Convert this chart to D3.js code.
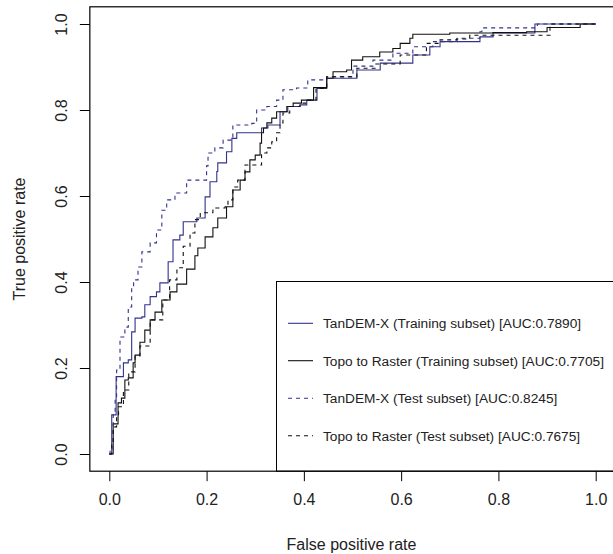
<!DOCTYPE html>
<html><head><meta charset="utf-8">
<script src="https://cdn.jsdelivr.net/npm/d3@7"></script>
<style>html,body{margin:0;padding:0;background:#fff;}svg{display:block;font-family:"Liberation Sans",Arial,sans-serif;}</style>
</head><body><div id="chart"></div>
<script>
const xTicks = [0, 0.2, 0.4, 0.6, 0.8, 1.0];
const yTicks = [0, 0.2, 0.4, 0.6, 0.8, 1.0];
const seriesNames = [
  "TanDEM-X (Training subset) [AUC:0.7890]",
  "Topo to Raster (Training subset) [AUC:0.7705]",
  "TanDEM-X (Test subset) [AUC:0.8245]",
  "Topo to Raster (Test subset) [AUC:0.7675]"
];
const seriesColors = ["#32328c", "#111111", "#32328c", "#111111"];
const seriesDash = [null, null, "4,4", "4,4"];

const tandemTrain = [[0,0],[0.005,0.091],[0.014,0.180],[0.025,0.180],[0.029,0.212],[0.039,0.219],[0.046,0.284],[0.053,0.316],[0.067,0.319],[0.073,0.347],[0.084,0.366],[0.097,0.377],[0.104,0.398],[0.121,0.447],[0.131,0.498],[0.145,0.509],[0.152,0.540],[0.180,0.549],[0.197,0.598],[0.207,0.633],[0.221,0.657],[0.223,0.677],[0.241,0.703],[0.252,0.734],[0.262,0.747],[0.300,0.747],[0.313,0.758],[0.326,0.765],[0.351,0.796],[0.367,0.808],[0.392,0.812],[0.406,0.823],[0.427,0.850],[0.447,0.874],[0.509,0.893],[0.557,0.909],[0.624,0.928],[0.659,0.947],[0.680,0.959],[0.762,0.970],[0.789,0.979],[0.875,0.979],[0.875,1.0],[1,1]];
const topoTrain = [[0,0],[0.008,0.070],[0.018,0.119],[0.025,0.130],[0.032,0.172],[0.039,0.177],[0.049,0.212],[0.053,0.230],[0.063,0.260],[0.073,0.288],[0.084,0.312],[0.094,0.330],[0.108,0.358],[0.125,0.377],[0.139,0.395],[0.159,0.430],[0.176,0.461],[0.182,0.479],[0.197,0.505],[0.213,0.526],[0.223,0.549],[0.241,0.575],[0.254,0.614],[0.269,0.637],[0.279,0.656],[0.289,0.684],[0.300,0.695],[0.310,0.723],[0.313,0.747],[0.317,0.758],[0.324,0.770],[0.334,0.781],[0.344,0.796],[0.365,0.808],[0.378,0.816],[0.395,0.823],[0.420,0.852],[0.447,0.874],[0.460,0.889],[0.488,0.893],[0.498,0.916],[0.521,0.924],[0.556,0.935],[0.583,0.943],[0.598,0.955],[0.618,0.967],[0.624,0.976],[0.700,0.979],[0.789,0.980],[0.858,0.982],[0.900,0.992],[0.968,0.994],[0.968,1.0],[1,1]];
const tandemTest = [[0,0],[0.0015,0.009],[0.008,0.095],[0.012,0.133],[0.015,0.195],[0.022,0.272],[0.032,0.295],[0.039,0.342],[0.046,0.388],[0.050,0.405],[0.059,0.435],[0.067,0.470],[0.084,0.491],[0.097,0.521],[0.108,0.567],[0.118,0.591],[0.135,0.607],[0.159,0.637],[0.182,0.637],[0.200,0.670],[0.203,0.700],[0.217,0.712],[0.234,0.730],[0.254,0.765],[0.293,0.769],[0.303,0.800],[0.324,0.808],[0.344,0.823],[0.357,0.847],[0.385,0.851],[0.408,0.870],[0.447,0.878],[0.501,0.902],[0.542,0.916],[0.583,0.932],[0.624,0.947],[0.665,0.959],[0.715,0.967],[0.762,0.982],[0.766,0.991],[0.824,0.991],[0.880,0.994],[0.880,1.0],[1,1]];
const topoTest = [[0,0],[0.005,0.025],[0.008,0.063],[0.015,0.086],[0.019,0.110],[0.029,0.149],[0.040,0.191],[0.053,0.228],[0.063,0.251],[0.084,0.312],[0.110,0.358],[0.124,0.405],[0.139,0.433],[0.152,0.483],[0.166,0.514],[0.176,0.545],[0.187,0.561],[0.213,0.572],[0.238,0.575],[0.244,0.591],[0.254,0.621],[0.264,0.637],[0.279,0.672],[0.306,0.672],[0.313,0.700],[0.324,0.712],[0.334,0.726],[0.344,0.747],[0.351,0.770],[0.357,0.793],[0.371,0.808],[0.392,0.816],[0.406,0.823],[0.425,0.850],[0.447,0.877],[0.509,0.897],[0.548,0.907],[0.598,0.928],[0.652,0.955],[0.680,0.963],[0.714,0.965],[0.741,0.974],[0.906,0.974],[0.906,1.0],[1,1]];
const allSeries = [tandemTrain, topoTrain, tandemTest, topoTest];

const W = 613, H = 554;
const svg = d3.select("#chart").append("svg").attr("width", W).attr("height", H);
const x = d3.scaleLinear().domain([0, 1]).range([109.3, 595.7]);
const y = d3.scaleLinear().domain([0, 1]).range([454, 24]);
const x0 = x(-0.04), x1 = x(1.04), yTop = y(1.04), yBot = y(-0.04);
const textColor = "#222";

// curves
const line = d3.line().x(d => x(d[0])).y(d => y(d[1])).curve(d3.curveStepAfter);
allSeries.forEach((s, i) => {
  svg.append("path").datum(s).attr("d", line)
    .attr("fill", "none").attr("stroke", seriesColors[i]).attr("stroke-width", 1.1)
    .attr("stroke-dasharray", seriesDash[i]);
});

// legend
const lg = svg.append("g");
lg.append("rect").attr("x", 276.5).attr("y", 281.5).attr("width", 400).attr("height", yBot - 281.5)
  .attr("fill", "#fff").attr("stroke", "#000").attr("stroke-width", 1);
const rowY = [323.3, 360.7, 398.3, 435.7];
seriesNames.forEach((n, i) => {
  lg.append("line").attr("x1", 288).attr("x2", 313).attr("y1", rowY[i]).attr("y2", rowY[i])
    .attr("stroke", seriesColors[i]).attr("stroke-width", 1.1).attr("stroke-dasharray", seriesDash[i]);
  lg.append("text").attr("x", 323).attr("y", rowY[i] + 5).attr("font-size", 13.7)
    .attr("fill", textColor).text(n);
});

// frame
svg.append("rect").attr("x", x0).attr("y", yTop).attr("width", x1 - x0).attr("height", yBot - yTop)
  .attr("fill", "none").attr("stroke", "#000").attr("stroke-width", 1.2);

// axes
const xa = svg.append("g").attr("transform", `translate(0,${yBot})`)
  .call(d3.axisBottom(x).tickValues(xTicks).tickFormat(d3.format(".1f")).tickSize(10).tickPadding(12));
xa.select(".domain").remove();
xa.selectAll("text").attr("font-size", 16).attr("fill", textColor).attr("font-family", "Liberation Sans, Arial, sans-serif");
xa.selectAll("line").attr("stroke", "#000");

const ya = svg.append("g").attr("transform", `translate(${x0},0)`)
  .call(d3.axisLeft(y).tickValues(yTicks).tickFormat(d3.format(".1f")).tickSize(10));
ya.select(".domain").remove();
ya.selectAll("line").attr("stroke", "#000");
ya.selectAll("text").remove();
ya.selectAll(".tick").append("text")
  .attr("transform", `translate(${66.5 - x0},0) rotate(-90)`)
  .attr("text-anchor", "middle").attr("font-size", 16).attr("fill", textColor)
  .attr("font-family", "Liberation Sans, Arial, sans-serif")
  .text(d => d3.format(".1f")(d));

// axis titles
svg.append("text").attr("x", (x0 + x1) / 2 - 1).attr("y", 550).attr("text-anchor", "middle")
  .attr("font-size", 16).attr("fill", textColor).text("False positive rate");
svg.append("text").attr("transform", `translate(24.5,${(yTop + yBot) / 2}) rotate(-90)`)
  .attr("text-anchor", "middle").attr("font-size", 16).attr("fill", textColor).text("True positive rate");
</script></body></html>
